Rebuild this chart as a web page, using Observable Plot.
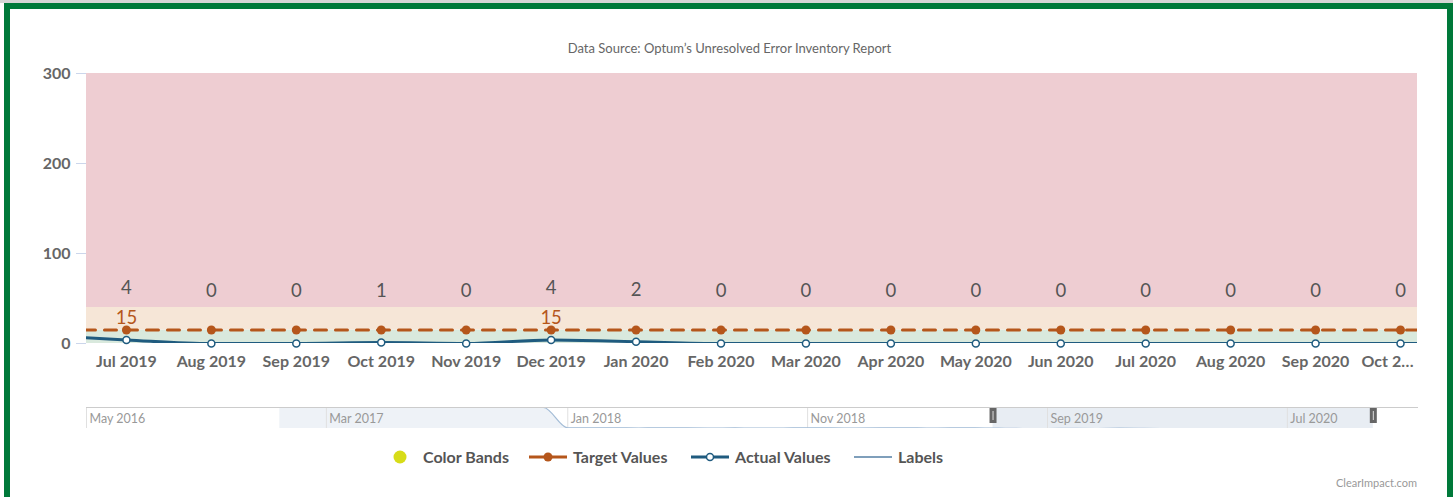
<!DOCTYPE html>
<html>
<head>
<meta charset="utf-8">
<script src="https://cdn.jsdelivr.net/npm/d3@7"></script>
<script src="https://cdn.jsdelivr.net/npm/@observablehq/plot@0.6"></script>
<style>
  html, body { margin: 0; padding: 0; background: #fff; width: 1453px; height: 497px; overflow: hidden; font-family: Lato, "Open Sans", sans-serif; }
  #topstrip { position: absolute; left: 0; top: 0; width: 1453px; height: 3px; background: #d6d6d6; }
  #frame { position: absolute; left: 4px; top: 3px; width: 1449px; height: 600px; border: 6px solid #00793a; box-sizing: border-box; z-index: 5; pointer-events: none; }
  #subtitle { position: absolute; left: 0; width: 1453px; top: 40px; text-align: center; font-size: 13px; color: #666; padding-left: 3px; }
  #main { position: absolute; left: 0; top: 60px; }
  #nav { position: absolute; left: 0; top: 400px; }
  #legend { position: absolute; top: 0; left: 0; width: 1453px; height: 497px; font-size: 16px; font-weight: bold; color: #555; }
  .icon { position: absolute; top: 449px; }
  .label { position: absolute; top: 447px; white-space: nowrap; line-height: 20px; }
  #credits { position: absolute; right: 36px; top: 476px; font-size: 11px; color: #999; }
</style>
</head>
<body>
<div id="topstrip"></div>
<div id="frame"></div>
<div id="subtitle"></div>
<div id="main"></div>
<div id="nav"></div>
<div id="legend"></div>
<div id="credits"></div>
<script>
// ---------- data ----------
const subtitleText = "Data Source: Optum’s Unresolved Error Inventory Report";
const creditsText = "ClearImpact.com";

const months = ["Jun 2019","Jul 2019","Aug 2019","Sep 2019","Oct 2019","Nov 2019","Dec 2019","Jan 2020","Feb 2020","Mar 2020","Apr 2020","May 2020","Jun 2020","Jul 2020","Aug 2020","Sep 2020","Oct 2020","Nov 2020"];
const actualValues = [9, 4, 0, 0, 1, 0, 4, 2, 0, 0, 0, 0, 0, 0, 0, 0, 0, 0];
const targetValues = [15, 15, 15, 15, 15, 15, 15, 15, 15, 15, 15, 15, 15, 15, 15, 15, 15, 15];
const targetLabelMonths = ["Jul 2019", "Dec 2019"];
const visibleMonths = ["Jul 2019","Aug 2019","Sep 2019","Oct 2019","Nov 2019","Dec 2019","Jan 2020","Feb 2020","Mar 2020","Apr 2020","May 2020","Jun 2020","Jul 2020","Aug 2020","Sep 2020","Oct 2020"];

const bandFrom = [0, 15, 40];
const bandTo = [15, 40, 300];
const bandColors = ["#d9e9dd", "#f6e6d7", "#eecdd2"];

const yTicks = [0, 100, 200, 300];

const navMonths = ["2017-01","2017-02","2017-03","2017-04","2017-05","2017-06","2017-07","2017-08","2017-09","2017-10","2017-11","2017-12",
  "2018-01","2018-02","2018-03","2018-04","2018-05","2018-06","2018-07","2018-08","2018-09","2018-10","2018-11","2018-12",
  "2019-01","2019-02","2019-03","2019-04","2019-05","2019-06","2019-07","2019-08","2019-09","2019-10","2019-11","2019-12",
  "2020-01","2020-02","2020-03","2020-04","2020-05","2020-06","2020-07","2020-08","2020-09","2020-10","2020-11","2020-12"];
const navValues = [260,260,260,260,260,260,260,260,260,260,260,260,
  8,7,9,6,8,7,6,7,5,6,8,7,
  6,7,8,6,7,9,4,0,0,1,0,4,
  2,0,0,0,0,0,0,0,0,0,0,0];
const navTickMonths = ["2016-05","2017-03","2018-01","2018-11","2019-09","2020-07"];
const navDomain = ["2016-05-01", "2020-12-13"];
const navSelection = ["2019-06-24", "2020-10-18"];

const legendItems = ["Color Bands", "Target Values", "Actual Values", "Labels"];

// ---------- colours ----------
const targetColor = "#b5561b";
const actualColor = "#1f5b7f";
const labelLineColor = "#7f9fbb";
const bandLegendColor = "#d7dc18";

// ---------- main chart ----------
const rows = months.map((m, i) => ({i, month: m, actual: actualValues[i], target: targetValues[i]}));
const bands = bandFrom.map((f, k) => ({from: f, to: bandTo[k], color: bandColors[k]}));
const xDomain = [0.53, 16.2];
const visibleRows = rows.filter(d => visibleMonths.includes(d.month));
const lastVisible = visibleRows[visibleRows.length - 1];
const axisStyle = {tickSize: 0, tickPadding: 12, fill: "#666", fontSize: 16, fontWeight: "bold", label: null};

const main = Plot.plot({
  width: 1453, height: 318,
  marginLeft: 86, marginRight: 36, marginTop: 13, marginBottom: 35,
  style: {fontFamily: "Lato, 'Open Sans', sans-serif", background: "transparent"},
  x: {type: "linear", domain: xDomain, label: null},
  y: {domain: [0, 300], label: null},
  marks: [
    Plot.rect(bands, {x1: xDomain[0], x2: xDomain[1], y1: "from", y2: "to", fill: "color"}),
    Plot.line(rows, {x: "i", y: "actual", stroke: actualColor, strokeWidth: 3, curve: "monotone-x", clip: true}),
    Plot.line(rows, {x: "i", y: "target", stroke: targetColor, strokeWidth: 3, strokeDasharray: "12,9", clip: true}),
    Plot.dot(visibleRows, {x: "i", y: "target", r: 4.5, fill: targetColor}),
    Plot.dot(visibleRows, {x: "i", y: "actual", r: 3.5, fill: "white", stroke: actualColor, strokeWidth: 1.5}),
    Plot.text(visibleRows, {x: "i", y: "actual", text: d => String(d.actual), dy: -52, fontSize: 18.5, fill: "#555"}),
    Plot.text(rows.filter(d => targetLabelMonths.includes(d.month)), {x: "i", y: "target", text: d => String(d.target), dy: -12, fontSize: 18.5, fill: targetColor}),
    Plot.axisY({ticks: yTicks, tickSize: 10, tickPadding: 6, stroke: "#ccd6eb", fill: "#666", fontSize: 16, fontWeight: "bold", label: null, tickFormat: d => String(d)}),
    Plot.axisX({...axisStyle, ticks: visibleRows.slice(0, -1).map(d => d.i), tickFormat: i => months[i]}),
    Plot.axisX({...axisStyle, ticks: [lastVisible.i], dx: -13, tickFormat: i => months[i].slice(0, 5) + "…"})
  ]
});
document.getElementById("main").appendChild(main);

// ---------- navigator ----------
const parseM = d3.utcParse("%Y-%m");
const parseD = d3.utcParse("%Y-%m-%d");
const navRows = navMonths.map((m, k) => ({date: parseM(m), value: navValues[k]}));
const navTicks = navTickMonths.map(parseM);
const fmtNav = d3.utcFormat("%b %Y");
const sel = navSelection.map(parseD);

const nav = Plot.plot({
  width: 1453, height: 32,
  marginLeft: 86, marginRight: 36, marginTop: 7, marginBottom: 4,
  style: {fontFamily: "Lato, 'Open Sans', sans-serif", background: "transparent"},
  x: {type: "utc", domain: navDomain.map(parseD), axis: null},
  y: {domain: [0, 260], axis: null},
  marks: [
    Plot.areaY(navRows, {x: "date", y: "value", fill: "#eef2f7", curve: "monotone-x", clip: true}),
    Plot.rect([sel], {x1: d => d[0], x2: d => d[1], y1: 0, y2: 260, fill: "#e4eaf1", fillOpacity: 0.85}),
    Plot.ruleX(navTicks, {stroke: "#e0e0e0"}),
    Plot.lineY(navRows, {x: "date", y: "value", stroke: "#a3bcd6", strokeWidth: 1.2, curve: "monotone-x", clip: true}),
    Plot.frame({anchor: "top", stroke: "#cccccc"}),
    Plot.text(navTicks, {x: d => d, text: d => fmtNav(d), textAnchor: "start", dx: 3, dy: 1, fontSize: 12.5, fill: "#999"}),
    Plot.ruleX(sel, {stroke: "#666", strokeWidth: 7, insetTop: 1, insetBottom: 5}),
    Plot.ruleX(sel, {stroke: "#ddd", strokeWidth: 1, insetTop: 4, insetBottom: 8})
  ]
});
document.getElementById("nav").appendChild(nav);

// ---------- text ----------
document.getElementById("subtitle").textContent = subtitleText;
document.getElementById("credits").textContent = creditsText;

// ---------- legend ----------
const legend = document.getElementById("legend");
const iconX = [392, 529, 691, 854];
const textX = [423, 573, 735, 898];
const icons = [
  `<svg width="16" height="16"><circle cx="8" cy="8" r="6.5" fill="${bandLegendColor}"/></svg>`,
  `<svg width="38" height="16"><line x1="0" y1="8" x2="38" y2="8" stroke="${targetColor}" stroke-width="3"/><circle cx="19" cy="8" r="4.5" fill="${targetColor}"/></svg>`,
  `<svg width="38" height="16"><line x1="0" y1="8" x2="38" y2="8" stroke="${actualColor}" stroke-width="3"/><circle cx="19" cy="8" r="3.5" fill="white" stroke="${actualColor}" stroke-width="1.5"/></svg>`,
  `<svg width="38" height="16"><line x1="0" y1="8" x2="38" y2="8" stroke="${labelLineColor}" stroke-width="2"/></svg>`
];
legendItems.forEach((name, k) => {
  const ic = document.createElement("div");
  ic.className = "icon";
  ic.style.left = iconX[k] + "px";
  ic.innerHTML = icons[k];
  legend.appendChild(ic);
  const tx = document.createElement("div");
  tx.className = "label";
  tx.style.left = textX[k] + "px";
  tx.textContent = name;
  legend.appendChild(tx);
});
</script>
</body>
</html>
